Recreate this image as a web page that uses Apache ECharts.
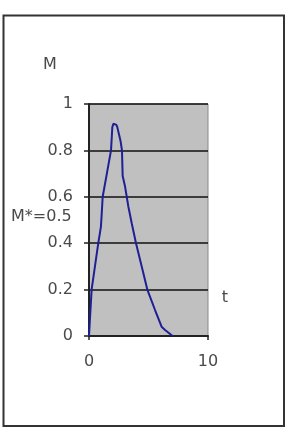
<!DOCTYPE html>
<html>
<head>
<meta charset="utf-8">
<style>
html,body{margin:0;padding:0;background:#fff;}
#chart{width:290px;height:430px;}
</style>
<script src="https://cdn.jsdelivr.net/npm/echarts@6/dist/echarts.min.js"></script>
</head>
<body>
<div id="chart"></div>
<script>
var tValues = [0, 0.22, 0.5, 0.78, 1.0, 1.06, 1.15, 1.5, 1.85, 1.96, 2.05, 2.18, 2.3, 2.38, 2.66, 2.77, 2.83, 3.03, 3.31, 3.59, 3.95, 4.43, 4.9, 5.55, 6.1, 6.39, 7.03];
var mValues = [0, 0.2, 0.3, 0.4, 0.47, 0.52, 0.6, 0.7, 0.8, 0.9, 0.915, 0.918, 0.91, 0.9, 0.838, 0.8, 0.69, 0.644, 0.557, 0.486, 0.4, 0.3, 0.2, 0.112, 0.04, 0.026, 0];
var yTicks = [0, 0.2, 0.4, 0.6, 0.8, 1];
var xTicks = [0, 10];
var yName = 'M';
var xName = 't';
var markText = 'M*=0.5';

var font = 'DejaVu Sans';
var txtColor = '#4a4a4a';
var chart = echarts.init(document.getElementById('chart'), null, {renderer: 'canvas'});
var data = tValues.map(function (t, i) { return [t, mValues[i]]; });
chart.setOption({
  animation: false,
  backgroundColor: '#fff',
  grid: {
    left: 89, top: 104, width: 119, height: 232,
    show: true, backgroundColor: '#c0c0c0', borderColor: '#8a8a8a', borderWidth: 1
  },
  xAxis: {
    type: 'value', min: xTicks[0], max: xTicks[xTicks.length - 1], interval: 10,
    axisLine: {show: true, onZero: false, lineStyle: {color: '#222', width: 2}},
    axisTick: {show: true, length: 4, lineStyle: {color: '#222', width: 1.5}},
    splitLine: {show: false},
    axisLabel: {color: txtColor, fontFamily: font, fontSize: 16, margin: 18}
  },
  yAxis: {
    type: 'value', min: yTicks[0], max: yTicks[yTicks.length - 1], interval: 0.2,
    axisLine: {show: true, onZero: false, lineStyle: {color: '#222', width: 2}},
    axisTick: {show: true, length: 5, lineStyle: {color: '#222', width: 1.5}},
    splitLine: {show: true, lineStyle: {color: '#111', width: 1.5}},
    axisLabel: {color: txtColor, fontFamily: font, fontSize: 16, margin: 16,
      formatter: function (v) { return String(Math.round(v * 10) / 10); }}
  },
  series: [{
    type: 'line', data: data, showSymbol: false, smooth: false,
    lineStyle: {color: '#1f1f96', width: 2}
  }],
  graphic: [
    {type: 'rect', shape: {x: 3.5, y: 15.5, width: 280.5, height: 410.5},
     style: {fill: 'none', stroke: '#333', lineWidth: 2}},
    {type: 'text', x: 50, y: 65, style: {text: yName, font: '16px "DejaVu Sans"', fill: txtColor, textAlign: 'center', textVerticalAlign: 'middle'}},
    {type: 'text', x: 225, y: 298, style: {text: xName, font: '16px "DejaVu Sans"', fill: txtColor, textAlign: 'center', textVerticalAlign: 'middle'}},
    {type: 'text', x: 11, y: 217, style: {text: markText, font: '16px "DejaVu Sans"', fill: txtColor, textAlign: 'left', textVerticalAlign: 'middle'}}
  ]
});
</script>
</body>
</html>
